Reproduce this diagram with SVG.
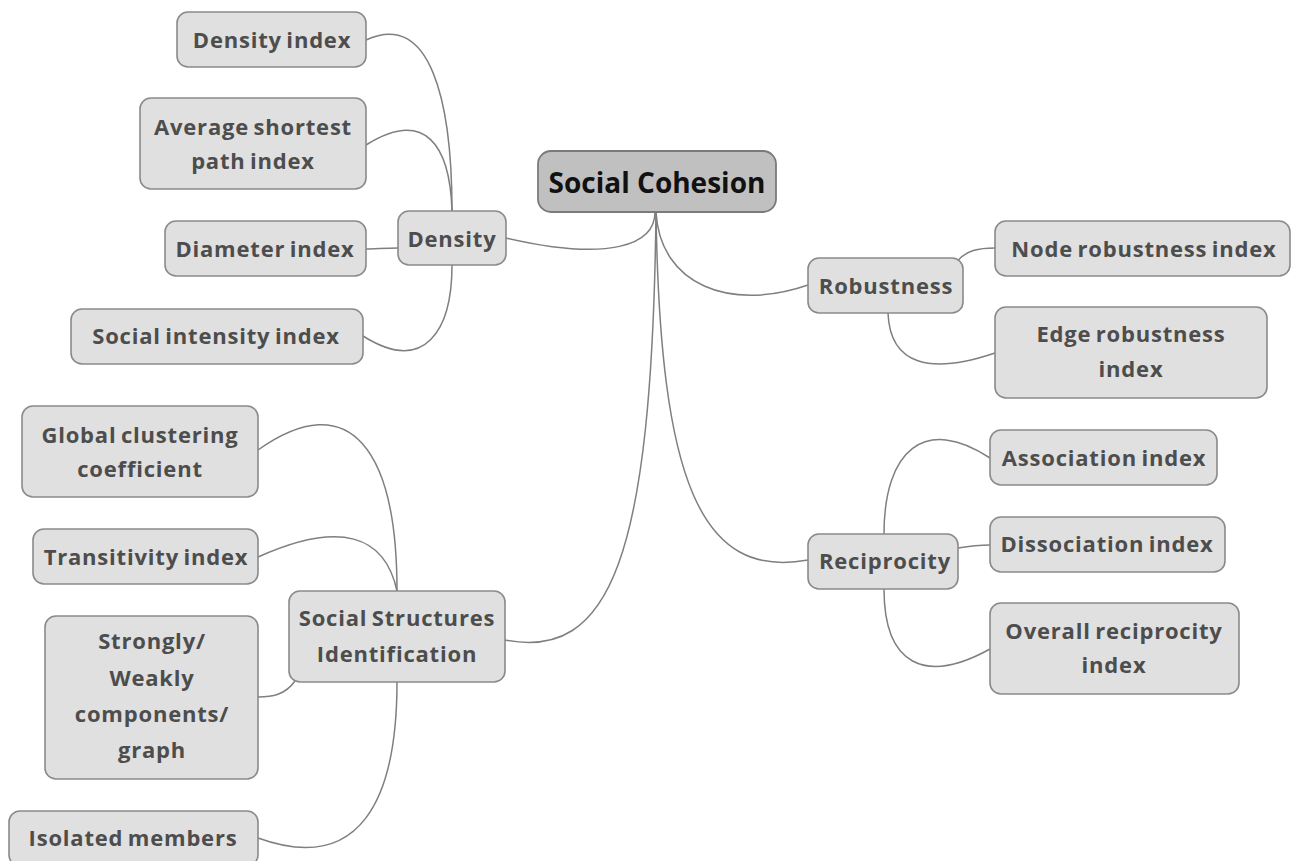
<svg xmlns="http://www.w3.org/2000/svg" width="1291" height="861" viewBox="0 0 1291 861">
<style>
.n rect{fill:#e0e0e0;stroke:#8a8a8a;stroke-width:1.6}
.n text{font-family:"Open Sans","Noto Sans","DejaVu Sans",sans-serif;font-weight:bold;font-size:22px;letter-spacing:0.8px;word-spacing:-2px;fill:#4d4d4d;text-anchor:middle;dominant-baseline:central}
.root rect{fill:#c0c0c0;stroke:#7a7a7a;stroke-width:1.8}
.root text{font-size:28px;letter-spacing:0;word-spacing:0;fill:#111}
#connectors path{fill:none;stroke:#7f7f7f;stroke-width:1.5}
</style>
<rect width="1291" height="861" fill="#ffffff"/>
<g id="connectors">
<path d="M655 212 C655 245 610 262 506 238"/>
<path d="M656 212 C660 285 730 312 808 285"/>
<path d="M656 212 C660 480 700 580 808 560"/>
<path d="M656 212 C652 560 610 660 505 640"/>
<path d="M452 211 C452 100 430 10 366 40"/>
<path d="M452 211 C450 145 425 108 366 145"/>
<path d="M398 248 C385 248 375 249 366 249"/>
<path d="M452 265 C452 330 425 375 363 336"/>
<path d="M397 591 C397 450 350 385 258 450"/>
<path d="M397 591 C385 535 340 520 258 557"/>
<path d="M295 681 C285 695 272 697 258 697"/>
<path d="M397 682 C397 800 360 875 258 838"/>
<path d="M957 262 C965 250 980 248 995 248"/>
<path d="M888 313 C890 365 930 375 995 353"/>
<path d="M884 534 C884 450 925 415 990 458"/>
<path d="M958 548 C970 546 980 545 990 545"/>
<path d="M884 589 C884 665 925 685 990 649"/>
</g>
<g id="root" class="n root"><rect x="538" y="151" width="238" height="61" rx="13"/><text x="657" y="182">Social Cohesion</text></g>
<g id="density" class="n"><rect x="398" y="211" width="108" height="54" rx="11"/><text x="452" y="238">Density</text></g>
<g id="density-index" class="n"><rect x="177" y="12" width="189" height="55" rx="11"/><text x="272" y="39">Density index</text></g>
<g id="avg-shortest" class="n"><rect x="140" y="98" width="226" height="91" rx="11"/><text x="253" y="126">Average shortest</text><text x="253" y="160">path index</text></g>
<g id="diameter" class="n"><rect x="165" y="221" width="201" height="55" rx="11"/><text x="265" y="248">Diameter index</text></g>
<g id="social-intensity" class="n"><rect x="71" y="309" width="292" height="55" rx="11"/><text x="216" y="335">Social intensity index</text></g>
<g id="ssi" class="n"><rect x="289" y="591" width="216" height="91" rx="11"/><text x="397" y="617">Social Structures</text><text x="397" y="653">Identification</text></g>
<g id="global-clustering" class="n"><rect x="22" y="406" width="236" height="91" rx="11"/><text x="140" y="434">Global clustering</text><text x="140" y="468">coefficient</text></g>
<g id="transitivity" class="n"><rect x="33" y="529" width="225" height="55" rx="11"/><text x="146" y="556">Transitivity index</text></g>
<g id="components" class="n"><rect x="45" y="616" width="213" height="163" rx="11"/><text x="152" y="640">Strongly/</text><text x="152" y="677">Weakly</text><text x="152" y="713">components/</text><text x="152" y="749">graph</text></g>
<g id="isolated" class="n"><rect x="9" y="811" width="249" height="55" rx="11"/><text x="133" y="837">Isolated members</text></g>
<g id="robustness" class="n"><rect x="808" y="258" width="155" height="55" rx="11"/><text x="886" y="285">Robustness</text></g>
<g id="node-robustness" class="n"><rect x="995" y="221" width="295" height="55" rx="11"/><text x="1144" y="248">Node robustness index</text></g>
<g id="edge-robustness" class="n"><rect x="995" y="307" width="272" height="91" rx="11"/><text x="1131" y="333">Edge robustness</text><text x="1131" y="368">index</text></g>
<g id="reciprocity" class="n"><rect x="808" y="534" width="150" height="55" rx="11"/><text x="885" y="560">Reciprocity</text></g>
<g id="association" class="n"><rect x="990" y="430" width="227" height="55" rx="11"/><text x="1104" y="457">Association index</text></g>
<g id="dissociation" class="n"><rect x="990" y="517" width="235" height="55" rx="11"/><text x="1107" y="543">Dissociation index</text></g>
<g id="overall-reciprocity" class="n"><rect x="990" y="603" width="249" height="91" rx="11"/><text x="1114" y="630">Overall reciprocity</text><text x="1114" y="664">index</text></g>
</svg>
